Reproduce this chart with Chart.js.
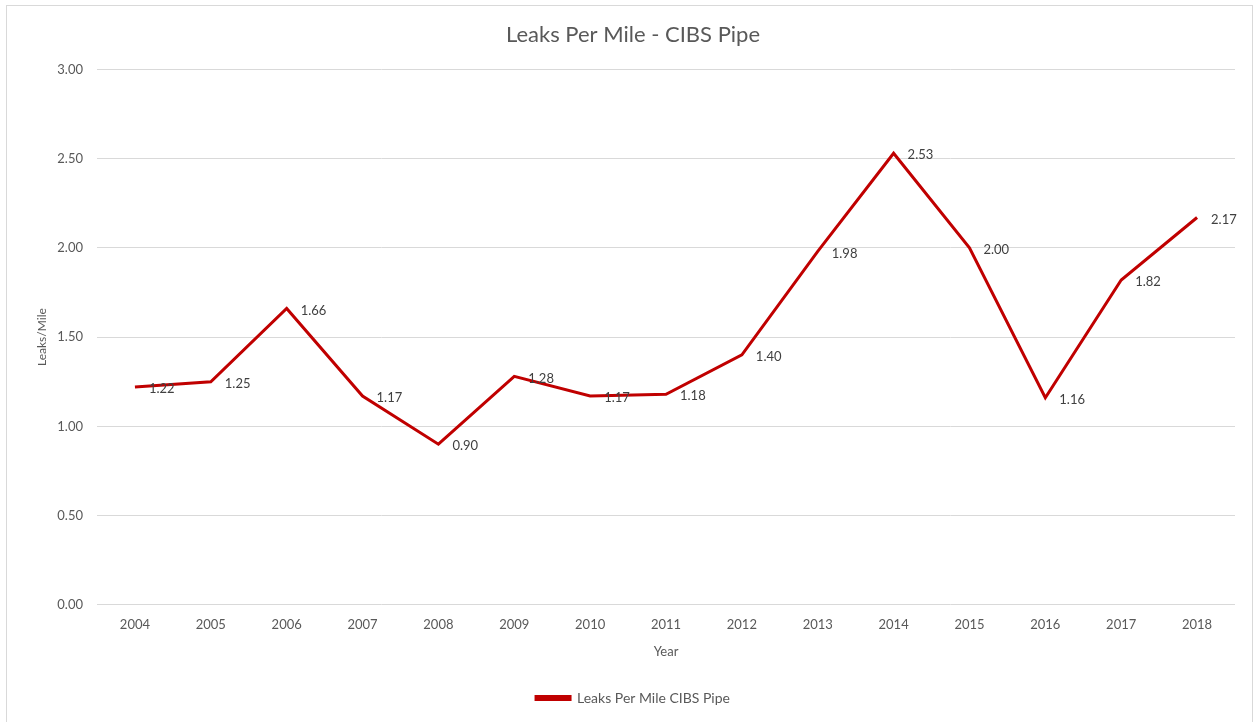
<!DOCTYPE html>
<html>
<head>
<meta charset="utf-8">
<script src="https://cdn.jsdelivr.net/npm/chart.js@4/dist/chart.umd.min.js"></script>
<style>
  html, body { margin: 0; padding: 0; background: #fff; }
  #wrap { position: relative; width: 1253px; height: 722px; }
</style>
</head>
<body>
<div id="wrap"><canvas id="c" width="1253" height="722"></canvas></div>
<script>
const years = ['2004','2005','2006','2007','2008','2009','2010','2011','2012','2013','2014','2015','2016','2017','2018'];
const leaksPerMile = [1.22, 1.25, 1.66, 1.17, 0.90, 1.28, 1.17, 1.18, 1.40, 1.98, 2.53, 2.00, 1.16, 1.82, 2.17];
const seriesName = 'Leaks Per Mile CIBS Pipe';
const chartTitle = 'Leaks Per Mile - CIBS Pipe';
const yTitle = 'Leaks/Mile';
const xTitle = 'Year';

const FONT = 'Lato, "Open Sans", sans-serif';
const TXT = '#595959';

const borderPlugin = {
  id: 'outerBorder',
  beforeDraw(chart) {
    const ctx = chart.ctx;
    ctx.save();
    ctx.fillStyle = '#fff';
    ctx.fillRect(0, 0, chart.width, chart.height);
    ctx.strokeStyle = '#d9d9d9';
    ctx.lineWidth = 1;
    ctx.strokeRect(6.5, 5.5, 1246, 720);
    ctx.restore();
  }
};

const labelPlugin = {
  id: 'pointLabels',
  afterDatasetsDraw(chart) {
    const ctx = chart.ctx;
    const meta = chart.getDatasetMeta(0);
    const data = chart.data.datasets[0].data;
    ctx.save();
    ctx.font = '13px ' + FONT;
    ctx.fillStyle = '#404040';
    ctx.textAlign = 'left';
    ctx.textBaseline = 'middle';
    meta.data.forEach((pt, i) => {
      ctx.fillText(data[i].toFixed(2), pt.x + 14, pt.y + 2);
    });
    ctx.restore();
  }
};

new Chart(document.getElementById('c'), {
  type: 'line',
  data: {
    labels: years,
    datasets: [{
      label: seriesName,
      data: leaksPerMile,
      borderColor: '#C00000',
      backgroundColor: '#C00000',
      borderWidth: 3,
      pointRadius: 0,
      tension: 0,
      fill: false
    }]
  },
  options: {
    responsive: false,
    animation: false,
    layout: { padding: { left: 31, right: 18, top: 0, bottom: 7 } },
    plugins: {
      title: {
        display: true,
        text: chartTitle,
        color: TXT,
        font: { family: FONT, size: 22, weight: 'normal' },
        padding: { top: 22, bottom: 21 }
      },
      legend: {
        display: true,
        position: 'bottom',
        labels: {
          color: TXT,
          font: { family: FONT, size: 14 },
          boxWidth: 34,
          boxHeight: 3,
          padding: 10
        }
      },
      tooltip: { enabled: false }
    },
    scales: {
      x: {
        offset: true,
        grid: { display: false, drawTicks: false },
        border: { display: false },
        ticks: { color: TXT, font: { family: FONT, size: 13 }, padding: 12, maxRotation: 0 },
        title: { display: true, text: xTitle, color: TXT, font: { family: FONT, size: 13 }, padding: { top: 0, bottom: 21 } }
      },
      y: {
        min: 0,
        max: 3,
        afterFit: scale => { scale.width = 66; },
        ticks: {
          stepSize: 0.5,
          color: TXT,
          font: { family: FONT, size: 13 },
          padding: 14,
          callback: v => Number(v).toFixed(2)
        },
        grid: { color: '#d9d9d9', drawTicks: false, lineWidth: 1 },
        border: { display: false },
        title: { display: true, text: yTitle, color: TXT, font: { family: FONT, size: 12 }, padding: { top: 4, bottom: 4 } }
      }
    }
  },
  plugins: [borderPlugin, labelPlugin]
});
</script>
</body>
</html>
